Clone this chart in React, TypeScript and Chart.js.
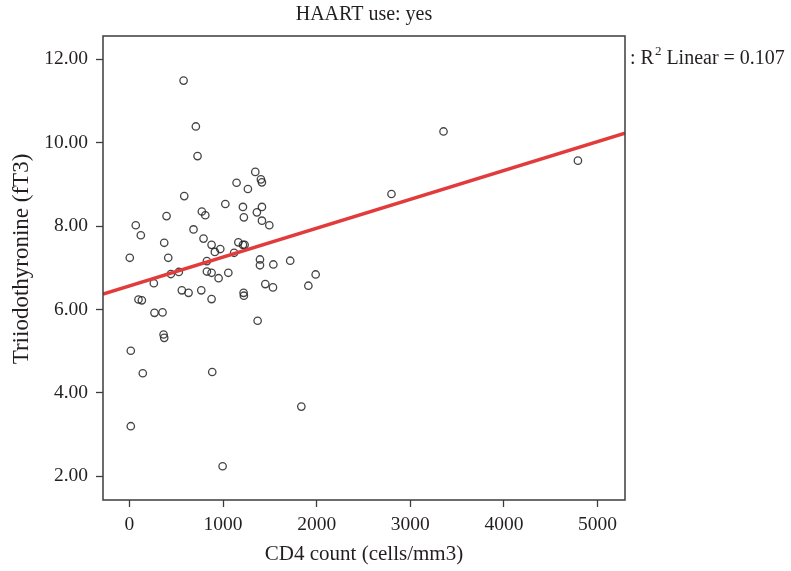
import React, { useEffect, useRef } from "react";
import { Chart, registerables } from "chart.js";

Chart.register(...registerables);

const chartTitle = "HAART use: yes";
const xAxisTitle = "CD4 count (cells/mm3)";
const yAxisTitle = "Triiodothyronine (fT3)";
const fitLabelPrefix = ": R";
const fitLabelSuffix = " Linear = 0.107";

const xTicks = [0, 1000, 2000, 3000, 4000, 5000];
const yTicks = [2, 4, 6, 8, 10, 12];
const xMin = -283;
const xMax = 5294;
const yMin = 1.43;
const yMax = 12.56;

const fitIntercept = 6.566;
const fitSlope = 0.000692;

const cd4 = [
  578, 709, 727, 585, 67, 121, 396, 371, 3, 414, 260, 442, 527, 559, 631, 684,
  773, 810, 791, 877, 912, 970, 827, 827, 877, 952, 1056, 767, 877, 1024, 1144,
  1265, 1344, 1404, 1415, 1212, 1222, 1361, 1415, 1415, 1494, 1163, 1212, 1230,
  1118, 1394, 1394, 1537, 1717, 1451, 1533, 1219, 1222, 1989, 1911, 1369, 96,
  132, 267, 353, 364, 371, 14, 142, 884, 1836, 14, 995, 2799, 3355, 4791,
];
const ft3 = [
  11.49, 10.39, 9.68, 8.72, 8.02, 7.78, 8.24, 7.6, 7.24, 7.24, 6.63, 6.85, 6.9,
  6.46, 6.4, 7.92, 8.35, 8.26, 7.7, 7.55, 7.38, 7.45, 7.16, 6.91, 6.88, 6.75,
  6.88, 6.46, 6.25, 8.53, 9.04, 8.89, 9.3, 9.12, 9.05, 8.46, 8.21, 8.33, 8.46,
  8.13, 8.02, 7.61, 7.55, 7.55, 7.36, 7.2, 7.06, 7.08, 7.17, 6.61, 6.53, 6.4,
  6.33, 6.84, 6.57, 5.73, 6.24, 6.22, 5.92, 5.93, 5.4, 5.32, 5.01, 4.47, 4.5,
  3.67, 3.2, 2.24, 8.77, 10.27, 9.57,
];

const FONT = "'Liberation Serif', 'Times New Roman', serif";
const TEXT = "#231f20";

const framePlugin = {
  id: "framePlugin",
  afterDraw(chart: any) {
    const { ctx, chartArea } = chart;
    const { left, right, top, bottom } = chartArea;
    ctx.save();
    ctx.strokeStyle = "#3c3c3c";
    ctx.lineWidth = 1.5;
    ctx.strokeRect(left, top, right - left, bottom - top);

    ctx.fillStyle = TEXT;
    ctx.textBaseline = "middle";
    ctx.textAlign = "center";
    ctx.font = `20px ${FONT}`;
    ctx.fillText(chartTitle, (left + right) / 2, 15);

    ctx.font = `21px ${FONT}`;
    ctx.fillText(xAxisTitle, (left + right) / 2, 554);

    ctx.save();
    ctx.translate(22, 259);
    ctx.rotate(-Math.PI / 2);
    ctx.font = `23px ${FONT}`;
    ctx.fillText(yAxisTitle, 0, 0);
    ctx.restore();

    // R^2 label
    ctx.textAlign = "left";
    ctx.font = `20px ${FONT}`;
    let x = right + 5;
    const y = 59;
    ctx.fillText(fitLabelPrefix, x, y);
    x += ctx.measureText(fitLabelPrefix).width + 1;
    ctx.font = `13px ${FONT}`;
    ctx.fillText("2", x, y - 7);
    x += ctx.measureText("2").width;
    ctx.font = `20px ${FONT}`;
    ctx.fillText(fitLabelSuffix, x, y);
    ctx.restore();
  },
};

export default function App() {
  const ref = useRef<HTMLCanvasElement | null>(null);

  useEffect(() => {
    if (!ref.current) return;
    const points = cd4.map((v, i) => ({ x: v, y: ft3[i] }));
    const fitLine = [xMin, xMax].map((v) => ({ x: v, y: fitIntercept + fitSlope * v }));

    const chart = new Chart(ref.current, {
      type: "scatter",
      data: {
        datasets: [
          {
            type: "line",
            data: fitLine,
            borderColor: "#e23b3b",
            borderWidth: 3.6,
            pointRadius: 0,
            fill: false,
          } as any,
          {
            type: "scatter",
            data: points,
            pointStyle: "circle",
            pointRadius: 3.7,
            pointBorderWidth: 1.3,
            borderColor: "rgba(35,35,35,0.85)",
            backgroundColor: "rgba(0,0,0,0)",
          } as any,
        ],
      },
      options: {
        animation: false,
        responsive: false,
        layout: { padding: { top: 36, right: 166, left: 0, bottom: 0 } },
        plugins: {
          legend: { display: false },
          tooltip: { enabled: false },
          title: { display: false },
        },
        scales: {
          x: {
            type: "linear",
            min: xMin,
            max: xMax,
            afterBuildTicks: (scale: any) => {
              scale.ticks = xTicks.map((v) => ({ value: v }));
            },
            afterFit: (scale: any) => {
              scale.height = 71;
            },
            grid: {
              drawOnChartArea: false,
              drawTicks: true,
              tickLength: 7,
              tickColor: "#3c3c3c",
              tickWidth: 1.3,
            },
            border: { display: false },
            ticks: {
              color: TEXT,
              padding: 6,
              maxRotation: 0,
              font: { family: FONT, size: 19.5 },
              callback: (v: any) => String(v),
            },
          },
          y: {
            type: "linear",
            min: yMin,
            max: yMax,
            afterBuildTicks: (scale: any) => {
              scale.ticks = yTicks.map((v) => ({ value: v }));
            },
            afterFit: (scale: any) => {
              scale.width = 103;
            },
            grid: {
              drawOnChartArea: false,
              drawTicks: true,
              tickLength: 7,
              tickColor: "#3c3c3c",
              tickWidth: 1.3,
            },
            border: { display: false },
            ticks: {
              color: TEXT,
              padding: 8,
              font: { family: FONT, size: 19.5 },
              callback: (v: any) => Number(v).toFixed(2),
            },
          },
        },
      },
      plugins: [framePlugin],
    });
    return () => chart.destroy();
  }, []);

  return (
    <canvas
      ref={ref}
      width={791}
      height={571}
      style={{ position: "absolute", left: 0, top: 0, display: "block", width: 791, height: 571 }}
    />
  );
}
